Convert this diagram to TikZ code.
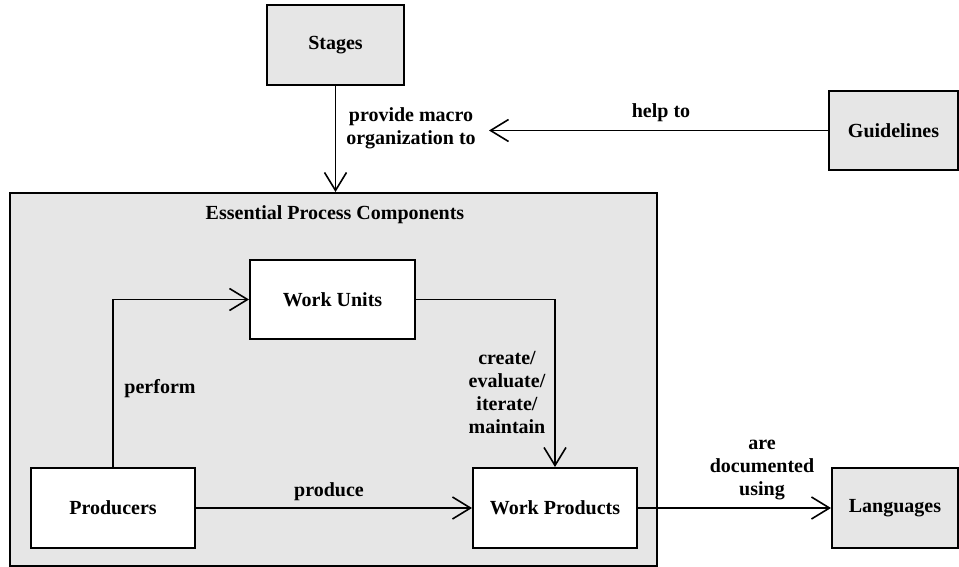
\documentclass[tikz,border=0pt]{standalone}
\usepackage{fontspec}
\setmainfont{Liberation Serif}
\usetikzlibrary{arrows.meta}
\tikzset{
    every node/.style={font=\bfseries\fontsize{10}{11.5}\selectfont, inner sep=1pt},
    box/.style={rectangle, draw, line width=1pt, fill=white, minimum width=82pt,
        minimum height=40pt},
    gbox/.style={box, fill=boxgray},
    arr/.style={line width=0.8pt, -{Straight Barb[length=9pt, width=11pt, line width=0.8pt]}}
}
\definecolor{boxgray}{HTML}{E6E6E6}

\begin{document}
\begin{tikzpicture}[x=0.5pt, y=-0.5pt]
  \useasboundingbox (0,0) rectangle (959,567);

  \node (epc) [gbox, minimum width=323.5pt, minimum height=186.5pt] at (333.5,379.5) {};
  \node (title) at (335,215) {Essential Process Components};

  \node (stages) [gbox, minimum width=68.5pt] at (335.5,45) {Stages};
  \node (guide) [gbox, minimum width=64.5pt, minimum height=39.5pt] at (893.5,130.5) {Guidelines};
  \node (langs) [gbox, minimum width=63pt] at (895,508) {Languages};

  \node (units) [box, minimum width=82.5pt, minimum height=39.5pt] at (332.5,299.5) {Work Units};
  \node (producers) [box] at (113,508) {Producers};
  \node (products) [box] at (555,508) {Work Products};

  \coordinate (helpend) at (489,130.5);

  % connector labels
  \node (lprovide) [align=center] at (411,128) {provide macro\\organization to};
  \node (lhelp) at (661,113) {help to};
  \node (lperform) at (160,389) {perform};
  \node (lproduce) at (329,492) {produce};
  \node (lcreate) [align=center] at (507,393) {create/\\evaluate/\\iterate/\\maintain};
  \node (ldoc) [align=center] at (762,470) {are\\documented\\using};

  \draw[arr] (stages) -- (stages |- epc.north);
  \draw[arr] (guide) -- (helpend);
  \draw[arr] (producers) |- (units);
  \draw[arr] (units) -| (products);
  \draw[arr] (producers) -- (products);
  \draw[arr] (products) -- (langs);

\end{tikzpicture}
\end{document}
